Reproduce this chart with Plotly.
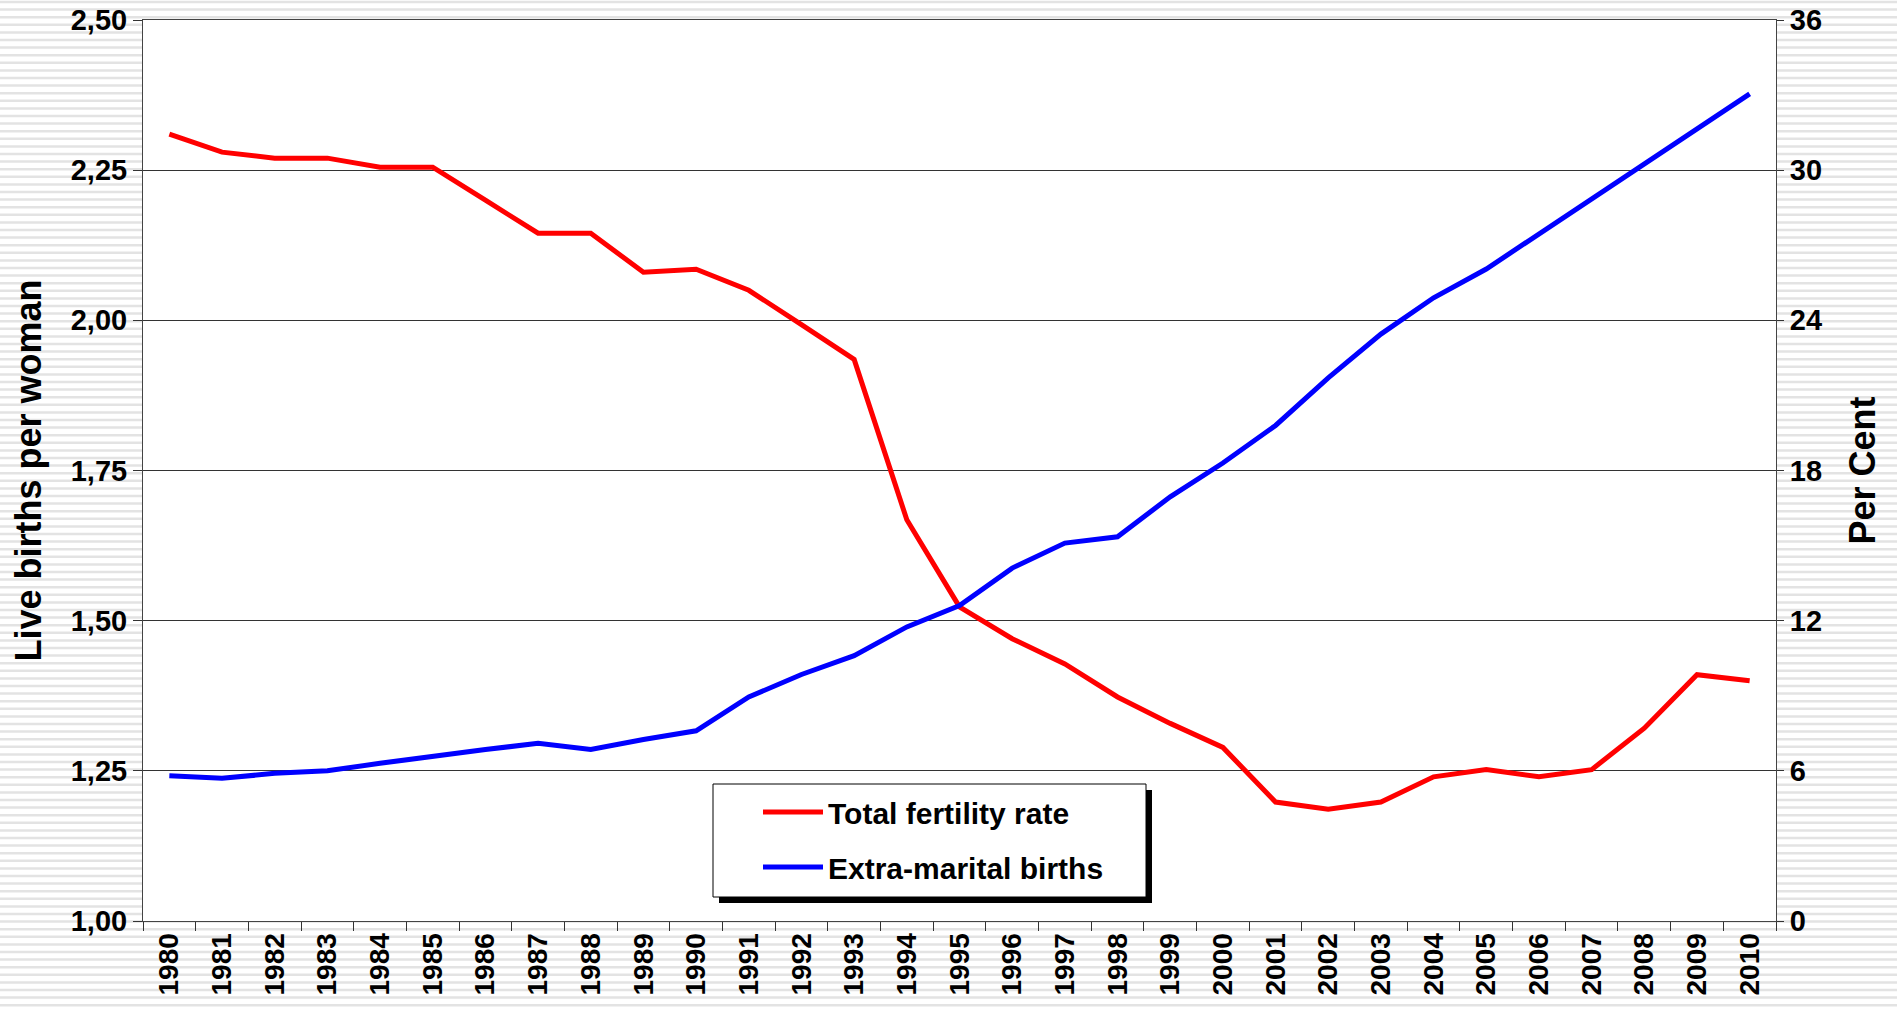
import plotly.graph_objects as go

years = [str(y) for y in range(1980, 2011)]
fertility = [2.31, 2.28, 2.27, 2.27, 2.255, 2.255, 2.20, 2.145, 2.145, 2.08, 2.085,
             2.05, 1.993, 1.935, 1.668, 1.523, 1.470, 1.428, 1.373, 1.329, 1.289,
             1.198, 1.186, 1.198, 1.240, 1.252, 1.240, 1.252, 1.321, 1.410, 1.400]
extramarital = [5.8, 5.7, 5.9, 6.0, 6.3, 6.6, 6.85, 7.1, 6.85, 7.25, 7.6,
                8.95, 9.85, 10.6, 11.75, 12.6, 14.1, 15.1, 15.35, 16.95, 18.3,
                19.8, 21.7, 23.45, 24.9, 26.05, 27.45, 28.85, 30.2, 31.65, 33.05]
left_ticks = [1.00, 1.25, 1.50, 1.75, 2.00, 2.25, 2.50]
right_ticks = [0, 6, 12, 18, 24, 30, 36]

W, H = 1897, 1009
ML, MR, MT, MB = 143, 121, 20, 88
PW, PH = W - ML - MR, H - MT - MB

def px_x(px):
    return (px - ML) / PW

def px_y(py):
    return (H - MB - py) / PH

FONT = "Liberation Sans, Arial, sans-serif"

fig = go.Figure()
fig.add_trace(go.Scatter(x=years, y=fertility, mode="lines", name="Total fertility rate",
                         line=dict(color="#ff0000", width=5), legendgroup="a", yaxis="y"))
fig.add_trace(go.Scatter(x=years, y=extramarital, mode="lines", name="Extra-marital births",
                         line=dict(color="#0000ff", width=5), legendgroup="b", yaxis="y2"))

shapes = []
# striped background
period = 7.6
k = 0
while k * period < H + period:
    yy = 2 + k * period
    shapes.append(dict(type="line", xref="paper", yref="paper",
                       x0=px_x(0), x1=px_x(W), y0=px_y(yy), y1=px_y(yy),
                       line=dict(color="#e3e3e3", width=2.5), layer="below"))
    k += 1
# white plot area
shapes.append(dict(type="rect", xref="paper", yref="paper", x0=0, x1=1, y0=0, y1=1,
                   fillcolor="white", line=dict(width=0), layer="below"))
# legend shadow and box
shapes.append(dict(type="rect", xref="paper", yref="paper",
                   x0=px_x(719), x1=px_x(1152), y0=px_y(903), y1=px_y(790),
                   fillcolor="black", line=dict(width=0), layer="above"))
shapes.append(dict(type="rect", xref="paper", yref="paper",
                   x0=px_x(713), x1=px_x(1146), y0=px_y(897), y1=px_y(784),
                   fillcolor="white", line=dict(color="black", width=1), layer="above"))

fig.update_layout(
    width=W, height=H,
    margin=dict(l=ML, r=MR, t=MT, b=MB, autoexpand=False),
    paper_bgcolor="white", plot_bgcolor="white",
    separators=",.",
    font=dict(family=FONT, color="black", size=26, weight="bold"),
    shapes=shapes,
    showlegend=True,
    legend=dict(x=px_x(758), y=px_y(786), xanchor="left", yanchor="top",
                bgcolor="rgba(0,0,0,0)", borderwidth=0,
                font=dict(family=FONT, size=30, color="black", weight="bold"),
                tracegroupgap=13, itemwidth=60),
    xaxis=dict(type="category", range=[-0.5, 30.5], tickson="boundaries", ticks="outside",
               ticklen=9, tickcolor="#333", showline=True, linecolor="#444", linewidth=1,
               mirror=True, showgrid=False, tickangle=-90,
               tickfont=dict(size=28, family=FONT, weight="bold"), automargin=False),
    yaxis=dict(range=[1.0, 2.5], tickvals=left_ticks, tickformat=".2f", ticks="outside",
               ticklen=9, tickcolor="#333", showline=True, linecolor="#444", linewidth=1,
               showgrid=True, gridcolor="#333", gridwidth=1, zeroline=False,
               tickfont=dict(size=29, family=FONT, weight="bold"),
               title=dict(text="Live births per woman", font=dict(size=36, family=FONT, weight="bold"),
                          standoff=18),
               automargin=False),
    yaxis2=dict(range=[0, 36], tickvals=right_ticks, overlaying="y", side="right",
                ticks="outside", ticklen=7, tickcolor="#333", showline=True, linecolor="#444",
                linewidth=1, showgrid=False, zeroline=False,
                tickfont=dict(size=29, family=FONT, weight="bold"),
                title=dict(text="Per Cent", font=dict(size=36, family=FONT, weight="bold"),
                           standoff=28),
                automargin=False),
)

fig.write_html("out.html", config={"displayModeBar": False},
               post_script="document.body.style.margin='0';document.body.style.overflow='hidden';")
